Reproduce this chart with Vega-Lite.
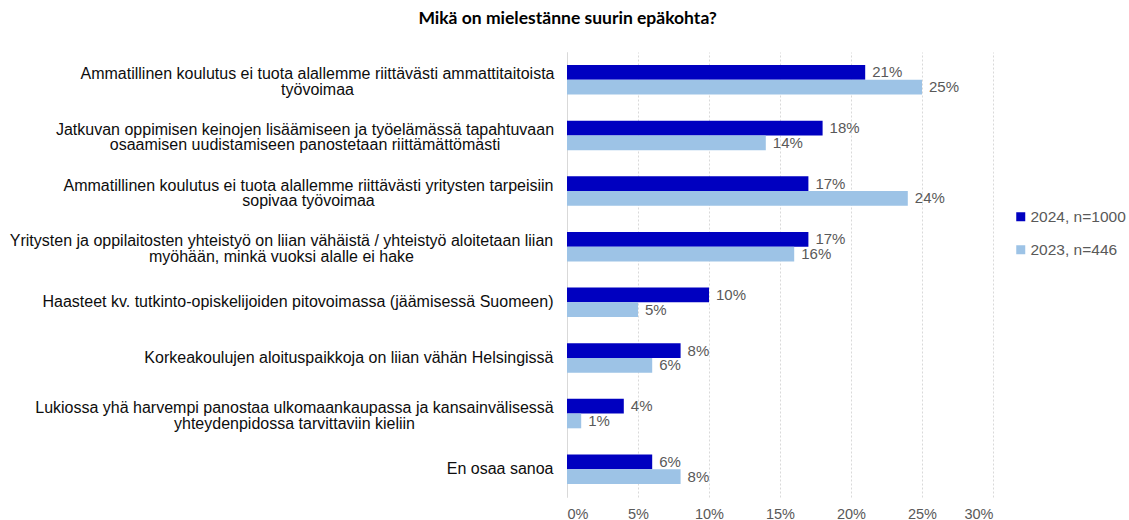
{
  "$schema": "https://vega.github.io/schema/vega-lite/v6.json",
  "width": 426,
  "height": 445,
  "padding": {"left": 9, "top": 9, "right": 0, "bottom": 0},
  "background": "white",
  "title": {
    "text": "Mikä on mielestänne suurin epäkohta?",
    "font": "Lato",
    "fontSize": 17.5,
    "fontWeight": "bold",
    "color": "#000000",
    "anchor": "middle",
    "frame": "bounds",
    "offset": 25
  },
  "data": {
    "values": [
      {"kysymys": "Ammatillinen koulutus ei tuota alallemme riittävästi ammattitaitoista|työvoimaa", "vuosi": "2024, n=1000", "osuus": 0.21},
      {"kysymys": "Ammatillinen koulutus ei tuota alallemme riittävästi ammattitaitoista|työvoimaa", "vuosi": "2023, n=446", "osuus": 0.25},
      {"kysymys": "Jatkuvan oppimisen keinojen lisäämiseen ja työelämässä tapahtuvaan|osaamisen uudistamiseen panostetaan riittämättömästi", "vuosi": "2024, n=1000", "osuus": 0.18},
      {"kysymys": "Jatkuvan oppimisen keinojen lisäämiseen ja työelämässä tapahtuvaan|osaamisen uudistamiseen panostetaan riittämättömästi", "vuosi": "2023, n=446", "osuus": 0.14},
      {"kysymys": "Ammatillinen koulutus ei tuota alallemme riittävästi yritysten tarpeisiin|sopivaa työvoimaa", "vuosi": "2024, n=1000", "osuus": 0.17},
      {"kysymys": "Ammatillinen koulutus ei tuota alallemme riittävästi yritysten tarpeisiin|sopivaa työvoimaa", "vuosi": "2023, n=446", "osuus": 0.24},
      {"kysymys": "Yritysten ja oppilaitosten yhteistyö on liian vähäistä / yhteistyö aloitetaan liian|myöhään, minkä vuoksi alalle ei hake", "vuosi": "2024, n=1000", "osuus": 0.17},
      {"kysymys": "Yritysten ja oppilaitosten yhteistyö on liian vähäistä / yhteistyö aloitetaan liian|myöhään, minkä vuoksi alalle ei hake", "vuosi": "2023, n=446", "osuus": 0.16},
      {"kysymys": "Haasteet kv. tutkinto-opiskelijoiden pitovoimassa (jäämisessä Suomeen)", "vuosi": "2024, n=1000", "osuus": 0.10},
      {"kysymys": "Haasteet kv. tutkinto-opiskelijoiden pitovoimassa (jäämisessä Suomeen)", "vuosi": "2023, n=446", "osuus": 0.05},
      {"kysymys": "Korkeakoulujen aloituspaikkoja on liian vähän Helsingissä", "vuosi": "2024, n=1000", "osuus": 0.08},
      {"kysymys": "Korkeakoulujen aloituspaikkoja on liian vähän Helsingissä", "vuosi": "2023, n=446", "osuus": 0.06},
      {"kysymys": "Lukiossa yhä harvempi panostaa ulkomaankaupassa ja kansainvälisessä|yhteydenpidossa tarvittaviin kieliin", "vuosi": "2024, n=1000", "osuus": 0.04},
      {"kysymys": "Lukiossa yhä harvempi panostaa ulkomaankaupassa ja kansainvälisessä|yhteydenpidossa tarvittaviin kieliin", "vuosi": "2023, n=446", "osuus": 0.01},
      {"kysymys": "En osaa sanoa", "vuosi": "2024, n=1000", "osuus": 0.06},
      {"kysymys": "En osaa sanoa", "vuosi": "2023, n=446", "osuus": 0.08}
    ]
  },
  "encoding": {
    "y": {
      "field": "kysymys",
      "type": "nominal",
      "sort": null,
      "scale": {"paddingInner": 0.47, "paddingOuter": 0.235},
      "axis": {
        "title": null,
        "ticks": false,
        "domain": true,
        "domainColor": "#d9d9d9",
        "domainWidth": 1,
        "labelExpr": "split(datum.label, '|')",
        "labelFont": "Liberation Sans",
        "labelFontSize": 16,
        "labelColor": "#0d0d0d",
        "labelLineHeight": 15.5,
        "labelLimit": 0,
        "labelBaseline": "middle",
        "labelAlign": {"condition": {"test": "indexof(datum.value, '|') >= 0", "value": "center"}, "value": "right"},
        "labelOffset": {"condition": {"test": "indexof(datum.value, '|') >= 0", "value": -5.5}, "value": 0},
        "labelPadding": {
          "condition": [
            {"test": "indexof(datum.value, 'ammattitaitoista') >= 0", "value": 250},
            {"test": "indexof(datum.value, 'Jatkuvan') >= 0", "value": 262.5},
            {"test": "indexof(datum.value, 'yritysten tarpeisiin') >= 0", "value": 259},
            {"test": "indexof(datum.value, 'Yritysten ja') >= 0", "value": 286},
            {"test": "indexof(datum.value, 'Lukiossa') >= 0", "value": 273}
          ],
          "value": 14
        }
      }
    },
    "yOffset": {
      "field": "vuosi",
      "type": "nominal",
      "sort": ["2024, n=1000", "2023, n=446"],
      "scale": {"paddingInner": 0, "paddingOuter": 0}
    },
    "x": {
      "field": "osuus",
      "type": "quantitative",
      "scale": {"domain": [0, 0.3]},
      "axis": {
        "title": null,
        "format": ".0%",
        "values": [0, 0.05, 0.1, 0.15, 0.2, 0.25, 0.3],
        "domain": false,
        "ticks": false,
        "grid": true,
        "gridColor": "#d9d9d9",
        "gridDash": [2, 2],
        "labelFont": "Liberation Sans",
        "labelFontSize": 14.5,
        "labelColor": "#595959",
        "labelPadding": 10
      }
    }
  },
  "layer": [
    {
      "mark": {"type": "bar"},
      "encoding": {
        "color": {
          "field": "vuosi",
          "type": "nominal",
          "sort": ["2024, n=1000", "2023, n=446"],
          "scale": {"domain": ["2024, n=1000", "2023, n=446"], "range": ["#0000c0", "#9dc3e6"]},
          "legend": {
            "title": null,
            "orient": "none",
            "legendX": 446,
            "legendY": 157,
            "symbolType": "square",
            "symbolSize": 81,
            "symbolStrokeWidth": 0,
            "labelFont": "Liberation Sans",
            "labelFontSize": 15.5,
            "labelColor": "#595959",
            "rowPadding": 16,
            "labelOffset": 2
          }
        }
      }
    },
    {
      "mark": {"type": "text", "align": "left", "baseline": "middle", "dx": 7, "font": "Liberation Sans", "fontSize": 15, "color": "#595959"},
      "encoding": {
        "text": {"field": "osuus", "type": "quantitative", "format": ".0%"}
      }
    }
  ],
  "config": {"view": {"stroke": null}}
}
